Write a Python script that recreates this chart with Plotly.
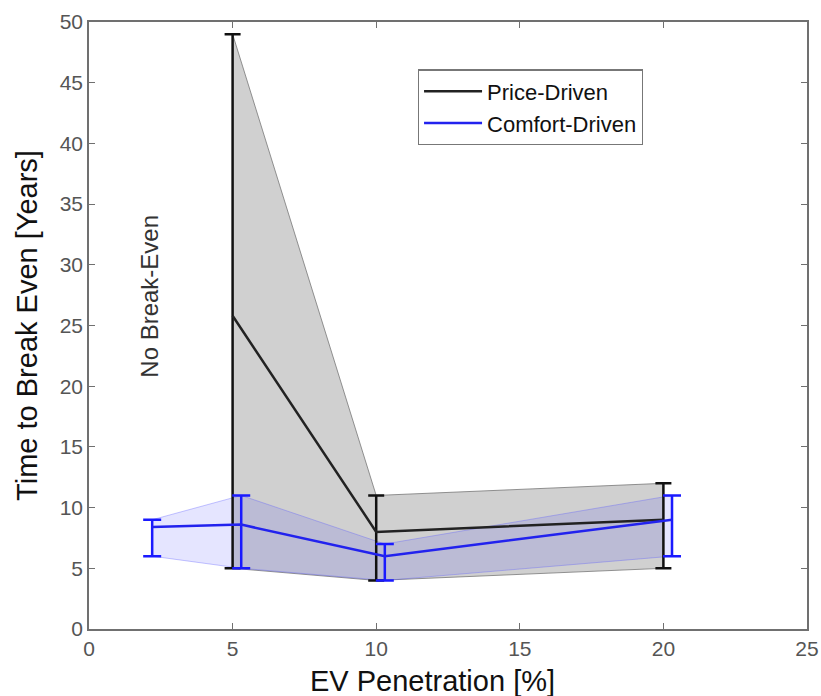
import plotly.graph_objects as go

# Price-Driven
price_x = [5, 10, 20]
price_mean = [25.8, 8.0, 9.0]
price_upper = [49.0, 11.0, 12.0]
price_lower = [5.0, 4.0, 5.0]

# Comfort-Driven
comfort_x = [2.2, 5.3, 10.3, 20.3]
comfort_mean = [8.4, 8.6, 6.0, 9.0]
comfort_upper = [9.0, 11.0, 7.0, 11.0]
comfort_lower = [6.0, 5.0, 4.0, 6.0]

x_ticks = [0, 5, 10, 15, 20, 25]
y_ticks = [0, 5, 10, 15, 20, 25, 30, 35, 40, 45, 50]

font = "Liberation Sans, Arial, sans-serif"

fig = go.Figure()

# Shaded bands
fig.add_trace(go.Scatter(
    x=price_x + price_x[::-1], y=price_upper + price_lower[::-1],
    fill="toself", fillcolor="rgba(200,200,200,0.85)",
    line=dict(color="rgba(120,120,120,0.8)", width=1),
    mode="lines", showlegend=False, hoverinfo="skip"))
fig.add_trace(go.Scatter(
    x=comfort_x + comfort_x[::-1], y=comfort_upper + comfort_lower[::-1],
    fill="toself", fillcolor="rgba(40,40,255,0.12)",
    line=dict(color="rgba(90,90,255,0.35)", width=1),
    mode="lines", showlegend=False, hoverinfo="skip"))

# Lines with error bars
fig.add_trace(go.Scatter(
    x=price_x, y=price_mean, mode="lines", name="Price-Driven",
    line=dict(color="#222222", width=2.5),
    error_y=dict(type="data", symmetric=False,
                 array=[u - m for u, m in zip(price_upper, price_mean)],
                 arrayminus=[m - l for m, l in zip(price_mean, price_lower)],
                 color="#111111", thickness=2.5, width=8)))
fig.add_trace(go.Scatter(
    x=comfort_x, y=comfort_mean, mode="lines", name="Comfort-Driven",
    line=dict(color="#2222ee", width=2.5),
    error_y=dict(type="data", symmetric=False,
                 array=[u - m for u, m in zip(comfort_upper, comfort_mean)],
                 arrayminus=[m - l for m, l in zip(comfort_mean, comfort_lower)],
                 color="#1a1aff", thickness=2.5, width=9)))

fig.add_annotation(x=2.1, y=27.4, text="No Break-Even", textangle=-90,
                   showarrow=False, font=dict(family=font, size=24, color="#333333"))

# x-axis title (placed slightly left of centre as in the original)
fig.add_annotation(x=0.478, y=-0.0857, xref="paper", yref="paper",
                   xanchor="center", yanchor="middle", showarrow=False,
                   text="EV Penetration [%]", font=dict(family=font, size=29, color="#111111"))

axis_common = dict(showline=True, linecolor="#707070", linewidth=1.5, mirror="allticks",
                   ticks="inside", ticklen=6, tickcolor="#707070", tickwidth=1.2,
                   showgrid=False, zeroline=False, automargin=False,
                   tickfont=dict(family=font, size=21, color="#555555"))

fig.update_layout(
    width=821, height=696,
    margin=dict(l=89, r=14, t=22, b=67),
    paper_bgcolor="white", plot_bgcolor="white",
    xaxis=dict(range=[0, 25], tickvals=x_ticks, **axis_common),
    yaxis=dict(range=[0, 50], tickvals=y_ticks,
               title=dict(text="Time to Break Even [Years]", font=dict(family=font, size=29, color="#111111"), standoff=14),
               **axis_common),
    legend=dict(x=0.458, y=0.922, xanchor="left", yanchor="top",
                bordercolor="#777777", borderwidth=1.2, bgcolor="white",
                font=dict(family=font, size=22, color="#111111"),
                tracegroupgap=0, itemwidth=58),
    showlegend=True,
)

fig.write_html("out.html")
